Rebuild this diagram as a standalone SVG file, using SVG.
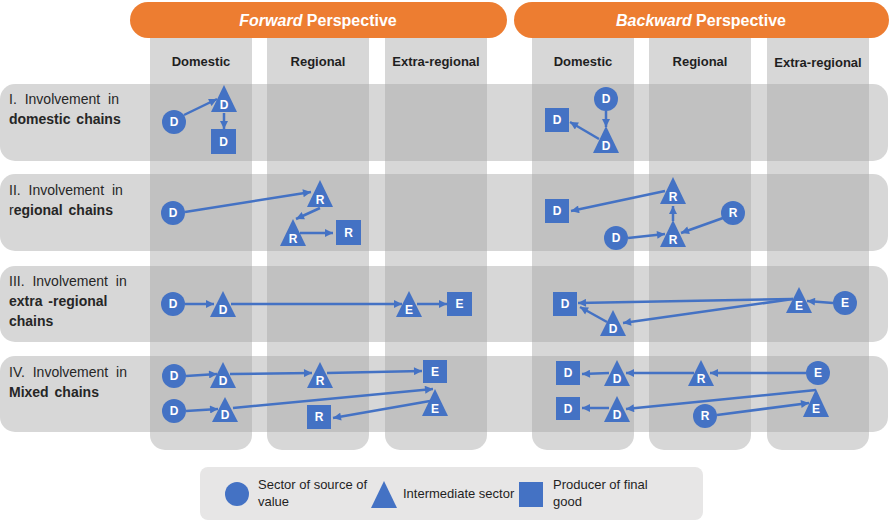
<svg xmlns="http://www.w3.org/2000/svg" width="890" height="520" viewBox="0 0 890 520">
  <defs>
    <marker id="ah" viewBox="0 0 10 10" refX="10" refY="5" markerWidth="9" markerHeight="8" markerUnits="userSpaceOnUse" orient="auto">
      <path d="M0,0 L10,5 L0,10 z" fill="#4472c4"/>
    </marker>
  </defs>
  <style>
    .band { fill: #a6a6a6; fill-opacity: 0.45; }
    .hdr { fill: #ed7d31; }
    .hdrtxt { fill: #ffffff; font-family: "Liberation Sans", Arial, sans-serif; font-size: 16px; font-weight: bold; text-anchor: middle; }
    .colh { fill: #1f1f1f; font-family: "Liberation Sans", Arial, sans-serif; font-size: 13px; font-weight: bold; text-anchor: middle; }
    .rowl { fill: #262626; font-family: "Liberation Sans", Arial, sans-serif; font-size: 14px; word-spacing: 4px; }
    .rowl .b { font-weight: bold; word-spacing: 2px; }
    .n { fill: #4472c4; }
    .lb { fill: #ffffff; font-family: "Liberation Sans", Arial, sans-serif; font-size: 12px; font-weight: bold; text-anchor: middle; dominant-baseline: central; }
    .cn { stroke: #4472c4; stroke-width: 2.5; fill: none; marker-end: url(#ah); }
    .leg { fill: #e7e6e6; }
    .legtxt { fill: #1f1f1f; font-family: "Liberation Sans", Arial, sans-serif; font-size: 13px; }
  </style>

  <!-- column bands -->
  <g id="columns">
    <rect class="band" x="150" y="20" width="102" height="430" rx="15"/>
    <rect class="band" x="267" y="20" width="102" height="430" rx="15"/>
    <rect class="band" x="385" y="20" width="102" height="430" rx="15"/>
    <rect class="band" x="532" y="20" width="102" height="430" rx="15"/>
    <rect class="band" x="649" y="20" width="102" height="430" rx="15"/>
    <rect class="band" x="767" y="20" width="102" height="430" rx="15"/>
  </g>

  <!-- row bands -->
  <g id="rows">
    <rect class="band" x="0" y="84" width="888" height="77" rx="15"/>
    <rect class="band" x="0" y="174" width="888" height="77" rx="15"/>
    <rect class="band" x="0" y="266" width="888" height="76" rx="15"/>
    <rect class="band" x="0" y="356" width="888" height="76" rx="15"/>
  </g>

  <!-- perspective headers -->
  <g id="hdr-forward">
    <rect class="hdr" x="130" y="2" width="377" height="36" rx="18"/>
    <text class="hdrtxt" x="318" y="26"><tspan font-style="italic">Forward</tspan> Perspective</text>
  </g>
  <g id="hdr-backward">
    <rect class="hdr" x="514" y="2" width="375" height="36" rx="18"/>
    <text class="hdrtxt" x="701" y="26"><tspan font-style="italic">Backward</tspan> Perspective</text>
  </g>

  <!-- column headings -->
  <g id="col-headings">
    <text class="colh" x="201" y="66">Domestic</text>
    <text class="colh" x="318" y="66">Regional</text>
    <text class="colh" x="436" y="66">Extra-regional</text>
    <text class="colh" x="583" y="66">Domestic</text>
    <text class="colh" x="700" y="66">Regional</text>
    <text class="colh" x="818" y="67">Extra-regional</text>
  </g>

  <!-- row labels -->
  <g id="row-labels">
    <text class="rowl" x="9" y="104">I. Involvement in</text>
    <text class="rowl" x="9" y="124"><tspan class="b">domestic chains</tspan></text>
    <text class="rowl" x="9" y="195">II. Involvement in</text>
    <text class="rowl" x="9" y="215">r<tspan class="b">egional chains</tspan></text>
    <text class="rowl" x="9" y="286">III. Involvement in</text>
    <text class="rowl" x="9" y="306"><tspan class="b">extra -regional</tspan></text>
    <text class="rowl" x="9" y="326"><tspan class="b">chains</tspan></text>
    <text class="rowl" x="9" y="377">IV. Involvement in</text>
    <text class="rowl" x="9" y="397"><tspan class="b">Mixed chains</tspan></text>
  </g>

  <!-- connectors -->
  <g id="connectors">
    <!-- I forward -->
    <line class="cn" x1="184" y1="115" x2="217" y2="99"/>
    <line class="cn" x1="224" y1="113" x2="224" y2="129"/>
    <!-- I backward -->
    <line class="cn" x1="606" y1="111" x2="606" y2="127"/>
    <line class="cn" x1="599" y1="139" x2="570" y2="122"/>
    <!-- II forward -->
    <line class="cn" x1="185" y1="212" x2="311" y2="192"/>
    <line class="cn" x1="320" y1="208" x2="296" y2="219"/>
    <line class="cn" x1="300" y1="233" x2="333" y2="233"/>
    <!-- II backward -->
    <line class="cn" x1="665" y1="191" x2="571" y2="211"/>
    <line class="cn" x1="673" y1="221" x2="673" y2="206"/>
    <line class="cn" x1="723" y1="218" x2="681" y2="233"/>
    <line class="cn" x1="628" y1="238" x2="665" y2="234"/>
    <!-- III forward -->
    <line class="cn" x1="185" y1="304" x2="214" y2="304"/>
    <line class="cn" x1="231" y1="304" x2="402" y2="304"/>
    <line class="cn" x1="417" y1="304" x2="447" y2="304"/>
    <!-- III backward -->
    <line class="cn" x1="833" y1="303" x2="807" y2="301"/>
    <line class="cn" x1="793" y1="299" x2="578" y2="303"/>
    <line class="cn" x1="793" y1="299" x2="623" y2="323"/>
    <line class="cn" x1="607" y1="322" x2="580" y2="307"/>
    <!-- IV forward -->
    <line class="cn" x1="186" y1="376" x2="217" y2="374"/>
    <line class="cn" x1="230" y1="374" x2="312" y2="373"/>
    <line class="cn" x1="327" y1="373" x2="422" y2="371"/>
    <line class="cn" x1="186" y1="411" x2="218" y2="409"/>
    <line class="cn" x1="233" y1="408" x2="433" y2="389"/>
    <line class="cn" x1="430" y1="401" x2="333" y2="418"/>
    <!-- IV backward -->
    <line class="cn" x1="806" y1="373" x2="710" y2="373"/>
    <line class="cn" x1="694" y1="373" x2="626" y2="373"/>
    <line class="cn" x1="609" y1="373" x2="582" y2="374"/>
    <line class="cn" x1="609" y1="408" x2="582" y2="408"/>
    <line class="cn" x1="816" y1="390" x2="626" y2="409"/>
    <line class="cn" x1="717" y1="415" x2="809" y2="403"/>
  </g>

  <!-- I. forward -->
  <g id="f1-src"><circle class="n" cx="174" cy="122" r="12"/><text class="lb" x="174" y="122">D</text></g>
  <g id="f1-mid"><polygon class="n" points="224,85 237,112 211,112"/><text class="lb" x="224" y="105">D</text></g>
  <g id="f1-fin"><rect class="n" x="211" y="129" width="25" height="25"/><text class="lb" x="223.5" y="141.5">D</text></g>
  <!-- I. backward -->
  <g id="b1-src"><circle class="n" cx="606" cy="99" r="12"/><text class="lb" x="606" y="99">D</text></g>
  <g id="b1-mid"><polygon class="n" points="606,126 619,153 593,153"/><text class="lb" x="606" y="146">D</text></g>
  <g id="b1-fin"><rect class="n" x="545" y="108" width="24" height="24"/><text class="lb" x="557" y="120">D</text></g>

  <!-- II. forward -->
  <g id="f2-src"><circle class="n" cx="173" cy="213" r="12"/><text class="lb" x="173" y="213">D</text></g>
  <g id="f2-mid1"><polygon class="n" points="320,180 333,207 307,207"/><text class="lb" x="320" y="200">R</text></g>
  <g id="f2-mid2"><polygon class="n" points="293,219 306,246 280,246"/><text class="lb" x="293" y="239">R</text></g>
  <g id="f2-fin"><rect class="n" x="336" y="220" width="25" height="25"/><text class="lb" x="348.5" y="232.5">R</text></g>
  <!-- II. backward -->
  <g id="b2-fin"><rect class="n" x="545" y="199" width="24" height="24"/><text class="lb" x="557" y="211">D</text></g>
  <g id="b2-mid1"><polygon class="n" points="673,177 686,204 660,204"/><text class="lb" x="673" y="197">R</text></g>
  <g id="b2-mid2"><polygon class="n" points="673,220 686,247 660,247"/><text class="lb" x="673" y="240">R</text></g>
  <g id="b2-src1"><circle class="n" cx="733" cy="213" r="12"/><text class="lb" x="733" y="213">R</text></g>
  <g id="b2-src2"><circle class="n" cx="616" cy="238" r="12"/><text class="lb" x="616" y="238">D</text></g>

  <!-- III. forward -->
  <g id="f3-src"><circle class="n" cx="173" cy="304" r="12"/><text class="lb" x="173" y="304">D</text></g>
  <g id="f3-mid1"><polygon class="n" points="223,291 236,317 210,317"/><text class="lb" x="223" y="310">D</text></g>
  <g id="f3-mid2"><polygon class="n" points="409,291 422,317 396,317"/><text class="lb" x="409" y="310">E</text></g>
  <g id="f3-fin"><rect class="n" x="447" y="292" width="25" height="24"/><text class="lb" x="459.5" y="304">E</text></g>
  <!-- III. backward -->
  <g id="b3-fin"><rect class="n" x="553" y="292" width="24" height="24"/><text class="lb" x="565" y="304">D</text></g>
  <g id="b3-mid1"><polygon class="n" points="613,310 626,336 600,336"/><text class="lb" x="613" y="329">D</text></g>
  <g id="b3-mid2"><polygon class="n" points="799,287 812,313 786,313"/><text class="lb" x="799" y="306">E</text></g>
  <g id="b3-src"><circle class="n" cx="845" cy="303" r="12"/><text class="lb" x="845" y="303">E</text></g>

  <!-- IV. forward -->
  <g id="f4-src1"><circle class="n" cx="174" cy="376" r="12"/><text class="lb" x="174" y="376">D</text></g>
  <g id="f4-mid1"><polygon class="n" points="223,362 236,388 210,388"/><text class="lb" x="223" y="381">D</text></g>
  <g id="f4-mid2"><polygon class="n" points="320,362 333,388 307,388"/><text class="lb" x="320" y="381">R</text></g>
  <g id="f4-fin1"><rect class="n" x="423" y="360" width="24" height="23"/><text class="lb" x="435" y="371.5">E</text></g>
  <g id="f4-src2"><circle class="n" cx="174" cy="411" r="12"/><text class="lb" x="174" y="411">D</text></g>
  <g id="f4-mid3"><polygon class="n" points="225,397 238,422 212,422"/><text class="lb" x="225" y="415">D</text></g>
  <g id="f4-mid4"><polygon class="n" points="435,389 448,416 422,416"/><text class="lb" x="435" y="409">E</text></g>
  <g id="f4-fin2"><rect class="n" x="307" y="405" width="24" height="24"/><text class="lb" x="319" y="417">R</text></g>
  <!-- IV. backward -->
  <g id="b4-fin1"><rect class="n" x="556" y="361" width="24" height="24"/><text class="lb" x="568" y="373">D</text></g>
  <g id="b4-mid1"><polygon class="n" points="617,360 630,386 604,386"/><text class="lb" x="617" y="379">D</text></g>
  <g id="b4-mid2"><polygon class="n" points="701,360 714,386 688,386"/><text class="lb" x="701" y="379">R</text></g>
  <g id="b4-src1"><circle class="n" cx="818" cy="373" r="12"/><text class="lb" x="818" y="373">E</text></g>
  <g id="b4-fin2"><rect class="n" x="556" y="397" width="24" height="23"/><text class="lb" x="568" y="408.5">D</text></g>
  <g id="b4-mid3"><polygon class="n" points="617,396 630,422 604,422"/><text class="lb" x="617" y="415">D</text></g>
  <g id="b4-mid4"><polygon class="n" points="816,389 829,417 803,417"/><text class="lb" x="816" y="409">E</text></g>
  <g id="b4-src2"><circle class="n" cx="705" cy="416" r="12"/><text class="lb" x="705" y="416">R</text></g>

  <!-- legend -->
  <g id="legend">
    <rect class="leg" x="200" y="467" width="503" height="53" rx="8"/>
    <circle class="n" cx="237" cy="494" r="12"/>
    <text class="legtxt" x="258" y="489">Sector of source of</text>
    <text class="legtxt" x="258" y="506">value</text>
    <polygon class="n" points="384,481 397,508 371,508"/>
    <text class="legtxt" x="403" y="498">Intermediate sector</text>
    <rect class="n" x="519" y="482" width="24" height="25"/>
    <text class="legtxt" x="553" y="489">Producer of final</text>
    <text class="legtxt" x="553" y="506">good</text>
  </g>
</svg>
